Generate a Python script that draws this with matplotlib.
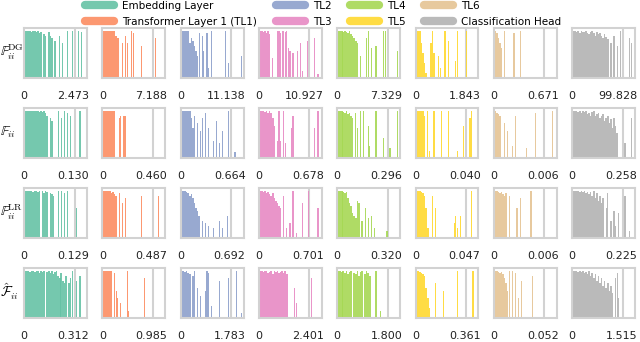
import matplotlib
matplotlib.use("Agg")
import matplotlib.pyplot as plt
from matplotlib.lines import Line2D

plt.rcParams['font.family'] = ['DejaVu Sans']
plt.rcParams['mathtext.fontset'] = 'cm'

layers = ["Embedding Layer", "Transformer Layer 1 (TL1)", "TL2", "TL3", "TL4", "TL5", "TL6",
          "Classification Head"]
colors = ["#66c2a5", "#fc8d62", "#8da0cb", "#e78ac3", "#a6d854", "#ffd92f", "#e5c494", "#b3b3b3"]
row_labels = [r"$\mathbb{F}_{ii}^{\mathrm{DG}}$", r"$\mathbb{F}_{ii}$",
              r"$\mathbb{F}_{ii}^{\mathrm{LR}}$", r"$\hat{\mathcal{F}}_{ii}$"]

# max value of each panel (x-axis right tick)
dg_max = [2.473, 7.188, 11.138, 10.927, 7.329, 1.843, 0.671, 99.828]
f_max = [0.130, 0.460, 0.664, 0.678, 0.296, 0.040, 0.006, 0.258]
lr_max = [0.129, 0.487, 0.692, 0.701, 0.320, 0.047, 0.006, 0.225]
hat_max = [0.312, 0.985, 1.783, 2.401, 1.800, 0.361, 0.052, 1.515]

# histogram heights (% of panel height); 40 bins per panel.
# dense: consecutive bins starting at bin 0; sparse: (bin, height) pairs
dg_dense = [
    [95, 95, 95, 95, 93, 95, 95, 92, 95, 90, 93, 0, 88, 85, 0, 92, 85, 80, 0, 75],
    [95, 95, 95, 95, 95, 95, 95, 95, 85, 80],
    [95, 95, 95, 95, 95, 70, 80, 75, 65, 55, 45],
    [95, 95, 93, 95, 90, 95, 88],
    [95, 95, 95, 93, 95, 92, 90, 95, 88, 85, 80, 75, 70],
    [95, 95, 95, 70, 50, 30, 10],
    [95, 90, 80, 70, 60],
    [95, 95, 92, 95, 90, 95, 93, 92, 95, 90, 88, 92, 95, 90, 85, 92, 88, 90, 85, 80, 88, 82, 78],
]
dg_sparse = [
    [(22, 85), (24, 70), (27, 95), (30, 95), (34, 95), (36, 92)],
    [(12, 70), (14, 85), (15, 70), (18, 95), (19, 90), (24, 65), (33, 80)],
    [(11, 90), (13, 85), (14, 55), (16, 90), (17, 20), (19, 95), (28, 95), (30, 30), (38, 45)],
    [(8, 40), (11, 95), (12, 95), (13, 90), (14, 95), (15, 95), (16, 92), (17, 95), (18, 60),
     (19, 55), (21, 50), (24, 55), (26, 70), (27, 15), (30, 75), (35, 80), (37, 8)],
    [(14, 45), (18, 80), (19, 95), (21, 60), (24, 65), (29, 95), (30, 95), (38, 55), (39, 95)],
    [(9, 70), (10, 95), (11, 50), (14, 45), (15, 20), (18, 95), (20, 75), (25, 35), (26, 95), (32, 95)],
    [(6, 95), (12, 90), (16, 95)],
    [(24, 70), (26, 85), (28, 65), (30, 95), (36, 80), (37, 70), (39, 50)],
]

f_dense = [
    [95, 95, 95, 95, 95, 95, 95, 95, 95, 93, 95, 92, 95, 90, 85, 0, 80, 75],
    [95, 95, 95, 95, 95, 95, 95, 95],
    [95, 95, 95, 95, 95, 95, 80, 60, 85],
    [95, 95, 95, 93, 95, 90, 95, 90, 80, 65],
    [95, 95, 95, 93, 90, 95, 88, 90, 85, 80],
    [95, 95, 95, 95, 95, 85],
    [95, 90, 88, 85],
    [95, 95, 95, 93, 95, 90, 95, 92, 95, 88, 90, 85, 92, 95, 85, 88, 90, 80, 85, 88, 75, 80, 85, 70,
     78, 60, 80, 65, 50],
]
f_sparse = [
    [(21, 95), (23, 80), (25, 95), (27, 90), (29, 85), (35, 95)],
    [(10, 80), (11, 85), (13, 85), (14, 85)],
    [(10, 70), (12, 55), (13, 80), (15, 90), (17, 60), (20, 35), (22, 75), (24, 30), (26, 55),
     (30, 95), (34, 12)],
    [(11, 35), (12, 95), (13, 35), (15, 95), (16, 30), (20, 60), (21, 85), (35, 60), (37, 95)],
    [(11, 90), (12, 60), (14, 95), (16, 95), (19, 65), (20, 25), (24, 95), (29, 40), (33, 20), (38, 95)],
    [(7, 95), (8, 15), (11, 95), (16, 95), (20, 95), (26, 15), (30, 65), (34, 80), (35, 95)],
    [(6, 70), (8, 55), (11, 25), (13, 85), (20, 20), (26, 90), (37, 95)],
    [(33, 30), (37, 80)],
]

lr_dense = [
    [95, 95, 95, 95, 95, 93, 95, 95, 92, 95, 0, 95, 90, 95, 93, 0, 90, 88, 85],
    [95, 95, 95, 95, 95, 90, 92, 88, 85],
    [95, 95, 95, 93, 90, 85, 88, 80, 70, 60, 55, 45],
    [95, 95, 93, 95, 90, 92, 88, 85, 90, 80, 75, 70, 65, 60],
    [95, 95, 95, 93, 90, 92, 80, 70, 65, 50, 45, 40, 75, 70],
    [95, 95, 95, 93, 90, 85, 60, 20],
    [95, 95, 93, 90, 92, 88, 85, 90],
    [95, 95, 95, 95, 93, 95, 92, 95, 90, 93, 88, 92, 85, 95, 80, 90, 75, 85, 70, 80],
]
lr_sparse = [
    [(21, 95), (23, 95), (25, 90), (27, 95), (33, 60)],
    [(10, 90), (12, 70), (14, 80), (24, 85), (35, 85)],
    [(13, 35), (15, 30), (17, 25), (20, 20), (24, 35), (26, 20), (29, 45)],
    [(15, 85), (17, 20), (19, 30), (21, 95), (23, 10), (27, 70), (31, 95), (37, 60)],
    [(15, 35), (17, 60), (19, 40), (21, 45), (23, 20), (31, 15)],
    [(10, 85), (12, 60), (24, 30), (25, 45), (26, 20), (28, 45), (35, 95)],
    [(9, 85), (14, 60), (16, 80), (23, 95)],
    [(21, 60), (22, 90), (24, 35), (26, 55), (27, 25), (29, 50), (33, 85), (36, 15)],
]

hat_dense = [
    [95, 95, 95, 93, 95, 95, 92, 95, 95, 90, 95, 93, 95, 0, 92, 95, 90, 95, 88, 92, 95, 85, 80, 90,
     75, 70, 85, 0, 70, 80],
    [95, 95, 95, 95, 95, 95],
    [95, 95, 93, 95, 90, 88],
    [95, 95, 93, 95, 95, 90, 92, 95, 88, 95, 92, 95, 90, 93, 95, 90, 95, 88],
    [95, 95, 93, 95, 90, 95, 88, 92, 95, 0, 90, 88, 95, 85, 92, 95, 0, 88, 95, 90, 85],
    [95, 95, 93, 90, 88, 85, 60, 40, 20],
    [95, 95, 93, 90, 92, 88, 80, 70, 55],
    [95, 95, 95, 93, 95, 92, 95, 90, 93, 88, 95, 85, 90, 80, 88, 75, 85, 70, 80, 65, 75, 60, 70, 55,
     65, 50],
]
hat_sparse = [
    [(30, 95), (33, 75), (35, 85)],
    [(7, 90), (8, 55), (9, 40), (11, 30), (15, 95), (16, 15), (26, 80)],
    [(7, 85), (8, 95), (10, 60), (12, 45), (15, 55), (16, 95), (17, 90), (19, 25), (24, 75),
     (30, 80), (35, 95), (38, 10)],
    [(22, 60), (23, 30), (33, 80)],
    [(24, 95), (27, 15)],
    [(12, 70), (17, 55), (26, 95), (36, 95)],
    [(9, 95), (11, 95), (13, 90), (15, 40), (17, 75), (24, 85)],
    [(27, 80), (28, 90), (29, 40), (39, 85)],
]

rows = [(dg_dense, dg_sparse, dg_max), (f_dense, f_sparse, f_max),
        (lr_dense, lr_sparse, lr_max), (hat_dense, hat_sparse, hat_max)]

NBINS = 40
W, H = 640, 342
fig = plt.figure(figsize=(W / 100, H / 100), dpi=100)

col_left = [24 + 78.3 * c for c in range(8)]
row_top = [28, 108, 188, 268]
pw, ph = 63, 50
frame_col = "#d2d2d2"

for r, (dense, sparse, maxes) in enumerate(rows):
    for c in range(8):
        x0 = col_left[c]
        y0 = row_top[r]
        ax = fig.add_axes([x0 / W, 1 - (y0 + ph) / H, pw / W, ph / H])
        m = maxes[c]
        bw = m / NBINS
        dx, dh = [], []
        for i, h in enumerate(dense[c]):
            if h > 0:
                dx.append((i + 0.5) * bw)
                dh.append(h / 100)
        sx = [(i + 0.5) * bw for i, h in sparse[c]]
        sh = [h / 100 for i, h in sparse[c]]
        ax.bar(dx, dh, width=bw * 1.02, color=colors[c], alpha=0.9, linewidth=0)
        ax.bar(sx, sh, width=bw * 0.75, color=colors[c], alpha=0.9, linewidth=0)
        ax.axvline(0.8 * m, color=frame_col, lw=1.5, zorder=0)
        ax.set_xlim(-0.01 * m, m)
        ax.set_ylim(0, 1.0)
        ax.set_xticks([])
        ax.set_yticks([])
        for s in ax.spines.values():
            s.set_color(frame_col)
            s.set_linewidth(1.5)
        ty = 1 - (y0 + ph + 18) / H
        fig.text(x0 / W, ty, "0", ha="center", va="center", fontsize=8, color="#222222")
        fig.text((x0 + pw + 2) / W, ty, f"{m:.3f}", ha="right", va="center", fontsize=8,
                 color="#222222")
    fig.text(0.5 / W, 1 - (row_top[r] + 24) / H, row_labels[r], ha="left", va="center",
             fontsize=10)

handles = [Line2D([0], [0], color=col, lw=6, solid_capstyle="round", alpha=0.9) for col in colors]
fig.legend(handles, layers, ncol=4, loc="upper center", bbox_to_anchor=(0.505, 1.025),
           frameon=False, fontsize=7.5, handlelength=2.8, handletextpad=0.75, columnspacing=1.8,
           labelspacing=0.6)

fig.savefig("out.png", dpi=100)
